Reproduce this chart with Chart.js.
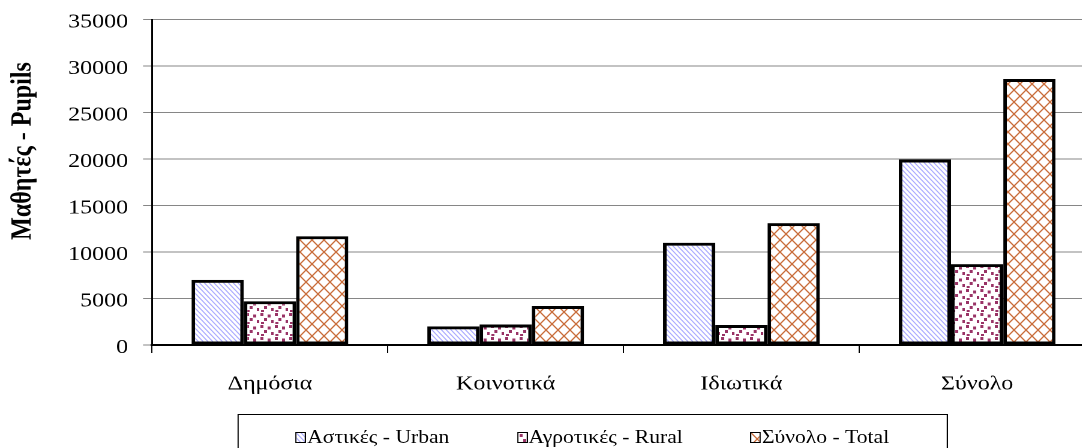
<!DOCTYPE html>
<html>
<head>
<meta charset="utf-8">
<script src="https://cdn.jsdelivr.net/npm/chart.js@4.4.0/dist/chart.umd.min.js"></script>
<style>
  html, body { margin: 0; padding: 0; background: #fff; overflow: hidden; }
  body { width: 1082px; height: 448px; position: relative; }
  /* the original picture is stretched sideways, so the whole stage is too */
  #stage { position: absolute; left: 0; top: 0; width: 920px; height: 448px; transform: scaleX(1.2); transform-origin: 0 0; }
  #legend {
    position: absolute; left: 197.5px; top: 414px; width: 592px; height: 44px;
    border: 1px solid #000; box-sizing: border-box;
    display: flex; justify-content: center; align-items: flex-start; gap: 56px;
    padding-top: 11px;
    font-family: "Liberation Serif", "Times New Roman", serif; font-size: 18px; color: #000;
  }
  .item { display: flex; align-items: center; white-space: nowrap; line-height: 22px; }
  .sw { width: 7px; height: 9px; border: 1.5px solid #000; margin-right: 1px; }
</style>
</head>
<body>
<div id="stage">
  <canvas id="chart" width="920" height="448"></canvas>
  <div id="legend"></div>
</div>
<script>
const categories = ['Δημόσια', 'Κοινοτικά', 'Ιδιωτικά', 'Σύνολο'];
const seriesNames = ['Αστικές - Urban', 'Αγροτικές - Rural', 'Σύνολο - Total'];
const urbanValues = [7000, 2000, 11000, 19950];
const ruralValues = [4700, 2200, 2150, 8700];
const totalValues = [11700, 4200, 13100, 28600];
const yTickValues = [0, 5000, 10000, 15000, 20000, 25000, 30000, 35000];
const yTitle = 'Μαθητές - Pupils';

const FONT = '"Liberation Serif", "Times New Roman", serif';

// tiles are drawn at 2x and scaled back down in the pattern
function makeTile(w, h, draw) {
    const c = document.createElement('canvas');
    c.width = w * 2;
    c.height = h * 2;
    const g = c.getContext('2d');
    g.fillStyle = '#ffffff';
    g.fillRect(0, 0, c.width, c.height);
    g.scale(2, 2);
    draw(g, w, h);
    return c;
}

const stripeTile = makeTile(4, 5, function(g, w, h) {
    g.strokeStyle = '#a8a8ff';
    g.lineWidth = 1;
    g.beginPath();
    g.moveTo(-w, -h); g.lineTo(2 * w, 2 * h);
    g.moveTo(-w, 0); g.lineTo(w, 2 * h);
    g.moveTo(0, -h); g.lineTo(2 * w, h);
    g.stroke();
});

const dotTile = makeTile(12, 12, function(g) {
    g.fillStyle = '#993366';
    [[1, 1], [7, 2.5], [4, 6], [10, 8], [1.5, 10]].forEach(function(p) {
        g.fillRect(p[0], p[1], 2.5, 3);
    });
});

const crossTile = makeTile(10, 12, function(g, w, h) {
    g.strokeStyle = '#c86a36';
    g.lineWidth = 1.2;
    g.beginPath();
    g.moveTo(0, 0); g.lineTo(w, h);
    g.moveTo(w, 0); g.lineTo(0, h);
    g.stroke();
});

const canvas = document.getElementById('chart');
const ctx = canvas.getContext('2d');

function toPattern(tile) {
    const p = ctx.createPattern(tile, 'repeat');
    p.setTransform(new DOMMatrix([0.5, 0, 0, 0.5, 0, 0]));
    return p;
}

const tiles = [stripeTile, dotTile, crossTile];
const seriesValues = [urbanValues, ruralValues, totalValues];

// legend built by hand so it can sit where the original one is
const legendEl = document.getElementById('legend');
seriesNames.forEach(function(name, i) {
    const item = document.createElement('div');
    item.className = 'item';
    const sw = document.createElement('span');
    sw.className = 'sw';
    sw.style.backgroundImage = 'url(' + tiles[i].toDataURL() + ')';
    sw.style.backgroundSize = (tiles[i].width / 2) + 'px ' + (tiles[i].height / 2) + 'px';
    const txt = document.createElement('span');
    txt.textContent = name;
    item.appendChild(sw);
    item.appendChild(txt);
    legendEl.appendChild(item);
});

// the y title in the original sits above the middle of the axis
const yTitlePlugin = {
    id: 'yTitle',
    afterDraw: function(chart) {
        const c = chart.ctx;
        c.save();
        c.translate(19.5, 151);
        c.rotate(-Math.PI / 2);
        c.fillStyle = '#000000';
        c.font = 'bold 24px ' + FONT;
        c.textAlign = 'center';
        c.textBaseline = 'middle';
        c.fillText(yTitle, 0, 0);
        c.restore();
    }
};

new Chart(ctx, {
    type: 'bar',
    data: {
        labels: categories,
        datasets: seriesNames.map(function(name, i) {
            return {
                label: name,
                data: seriesValues[i],
                backgroundColor: toPattern(tiles[i]),
                borderColor: '#000000',
                borderWidth: 3,
                borderSkipped: false
            };
        })
    },
    options: {
        responsive: false,
        animation: false,
        devicePixelRatio: 2,
        layout: {
            padding: { top: 19.5, right: 7.5, bottom: 0, left: 0 }
        },
        datasets: {
            bar: { categoryPercentage: 0.665, barPercentage: 1 }
        },
        plugins: {
            legend: { display: false },
            tooltip: { enabled: false }
        },
        scales: {
            x: {
                grid: {
                    offset: true,
                    drawOnChartArea: false,
                    drawTicks: true,
                    tickLength: 8,
                    color: '#000000',
                    lineWidth: 1
                },
                border: { color: '#000000', width: 2 },
                ticks: {
                    color: '#000000',
                    padding: 19,
                    font: { family: FONT, size: 20 }
                },
                afterFit: function(scale) {
                    scale.height = 103;
                }
            },
            y: {
                min: 0,
                max: 35000,
                afterBuildTicks: function(scale) {
                    scale.ticks = yTickValues.map(function(v) { return { value: v }; });
                },
                grid: {
                    color: '#868686',
                    lineWidth: 1,
                    tickLength: 7.5
                },
                border: { color: '#000000', width: 1.5 },
                ticks: {
                    color: '#000000',
                    padding: 12.5,
                    labelOffset: 2.5,
                    font: { family: FONT, size: 20 },
                    callback: function(v) { return String(v); }
                },
                afterFit: function(scale) {
                    scale.width = 126.7;
                    scale.paddingTop = 0;
                    scale.paddingBottom = 0;
                }
            }
        }
    },
    plugins: [yTitlePlugin]
});
</script>
</body>
</html>
